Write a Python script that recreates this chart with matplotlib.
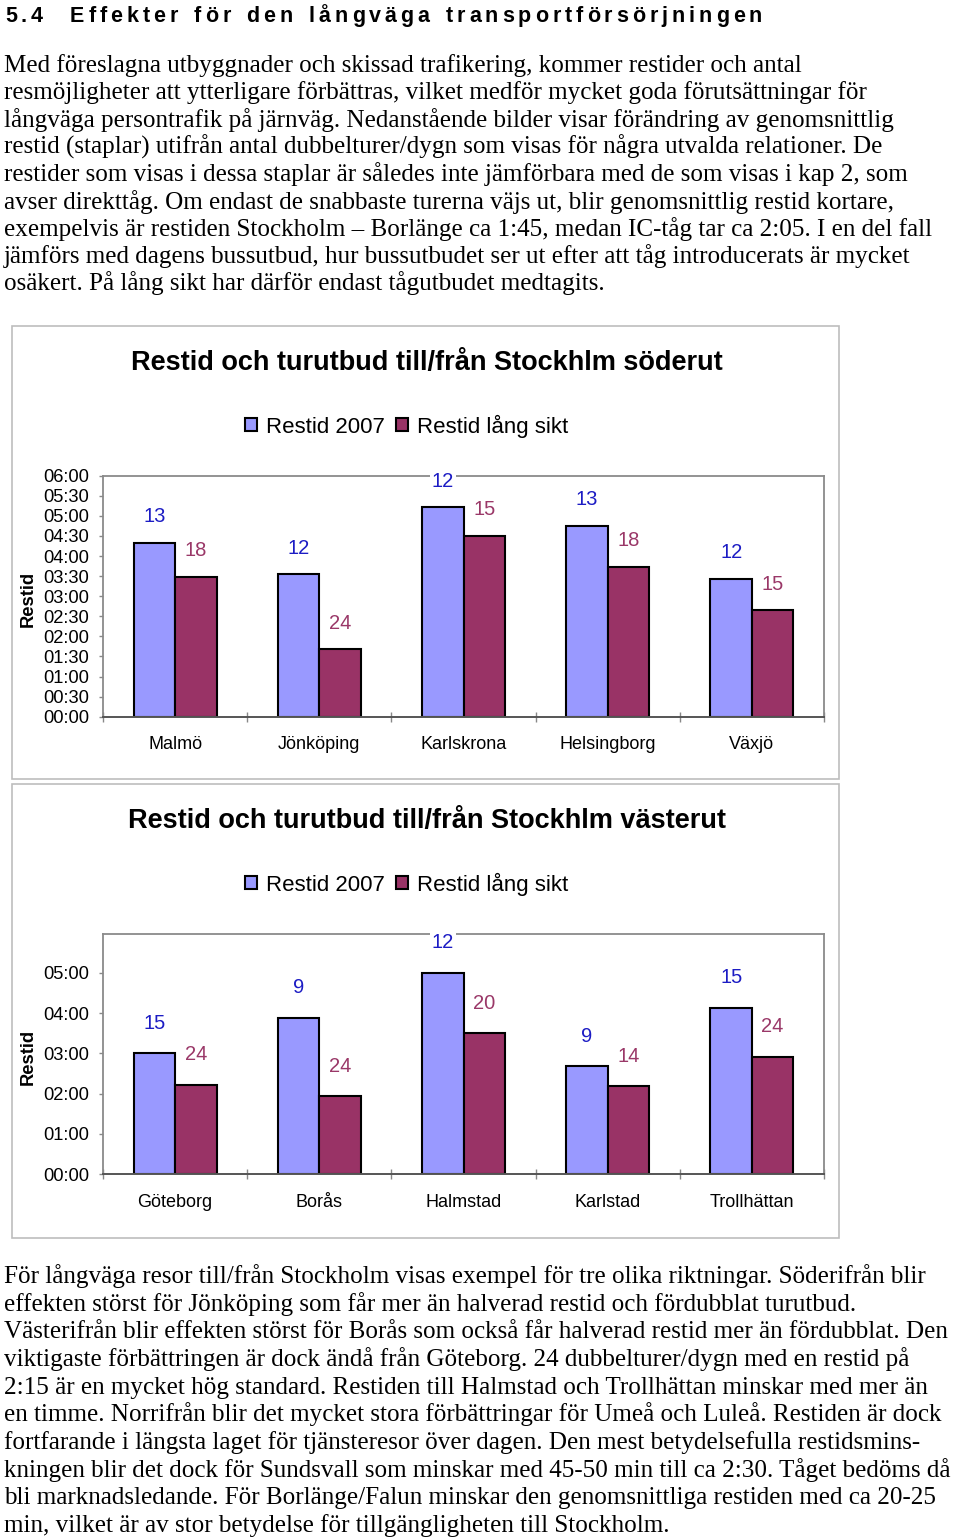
import numpy as np
import matplotlib.pyplot as plt
from matplotlib.patches import Rectangle

W, H = 960, 1537

heading_num = "5.4"
heading_text = "Effekter för den långväga transportförsörjningen"

intro_lines = [
    "Med föreslagna utbyggnader och skissad trafikering, kommer restider och antal",
    "resmöjligheter att ytterligare förbättras, vilket medför mycket goda förutsättningar för",
    "långväga persontrafik på järnväg. Nedanstående bilder visar förändring av genomsnittlig",
    "restid (staplar) utifrån antal dubbelturer/dygn som visas för några utvalda relationer. De",
    "restider som visas i dessa staplar är således inte jämförbara med de som visas i kap 2, som",
    "avser direkttåg. Om endast de snabbaste turerna väjs ut, blir genomsnittlig restid kortare,",
    "exempelvis är restiden Stockholm – Borlänge ca 1:45, medan IC-tåg tar ca 2:05. I en del fall",
    "jämförs med dagens bussutbud, hur bussutbudet ser ut efter att tåg introducerats är mycket",
    "osäkert. På lång sikt har därför endast tågutbudet medtagits.",
]

outro_lines = [
    "För långväga resor till/från Stockholm visas exempel för tre olika riktningar. Söderifrån blir",
    "effekten störst för Jönköping som får mer än halverad restid och fördubblat turutbud.",
    "Västerifrån blir effekten störst för Borås som också får halverad restid mer än fördubblat. Den",
    "viktigaste förbättringen är dock ändå från Göteborg. 24 dubbelturer/dygn med en restid på",
    "2:15 är en mycket hög standard. Restiden till Halmstad och Trollhättan minskar med mer än",
    "en timme. Norrifrån blir det mycket stora förbättringar för Umeå och Luleå. Restiden är dock",
    "fortfarande i längsta laget för tjänsteresor över dagen. Den mest betydelsefulla restidsmins-",
    "kningen blir det dock för Sundsvall som minskar med 45-50 min till ca 2:30. Tåget bedöms då",
    "bli marknadsledande. För Borlänge/Falun minskar den genomsnittliga restiden med ca 20-25",
    "min, vilket är av stor betydelse för tillgängligheten till Stockholm.",
]

series_names = ["Restid 2007", "Restid lång sikt"]

# söderut (restid i minuter, turer = dubbelturer/dygn)
south_title = "Restid och turutbud till/från Stockhlm söderut"
south_cities = ["Malmö", "Jönköping", "Karlskrona", "Helsingborg", "Växjö"]
south_2007_min = [260, 213, 313, 285, 206]
south_long_min = [209, 101, 270, 224, 159]
south_trips_2007 = [13, 12, 12, 13, 12]
south_trips_long = [18, 24, 15, 18, 15]

# västerut
west_title = "Restid och turutbud till/från Stockhlm västerut"
west_cities = ["Göteborg", "Borås", "Halmstad", "Karlstad", "Trollhättan"]
west_2007_min = [180, 233, 300, 161, 248]
west_long_min = [133, 116, 210, 131, 175]
west_trips_2007 = [15, 9, 12, 9, 15]
west_trips_long = [24, 24, 20, 14, 24]

COL_2007 = '#9999ff'
COL_LONG = '#993366'
LAB_2007 = '#1c1cc4'
LAB_LONG = '#9a3868'

plt.rcParams['font.family'] = ['Liberation Sans', 'DejaVu Sans']

fig = plt.figure(figsize=(W / 100, H / 100), dpi=100)
renderer = fig.canvas.get_renderer()


def fx(px):
    return px / W


def fy(py):
    return 1 - py / H


def text_width(s, size, **kw):
    t = fig.text(0, 0, s, fontsize=size, **kw)
    w = t.get_window_extent(renderer).width
    t.remove()
    return w


# heading with wide letter spacing
hsize = 15.5
hkw = dict(family='Liberation Sans', weight='bold')
widths = [text_width(ch, hsize, **hkw) for ch in heading_text if ch != ' ']
word_gap = 16
n_gaps = sum(len(wd) - 1 for wd in heading_text.split(' '))
track = (762 - 70 - sum(widths) - word_gap * heading_text.count(' ')) / n_gaps


def draw_tracked(x, base, s):
    for ch in s:
        if ch == ' ':
            x += word_gap - track
            continue
        t = fig.text(fx(x), fy(base), ch, fontsize=hsize, va='baseline', **hkw)
        x += t.get_window_extent(renderer).width + track
    return x


draw_tracked(5, 22, heading_num)
draw_tracked(70, 22, heading_text)

# body text
body_size = 10 * 865 / text_width(intro_lines[1], 10, family='Liberation Serif')
for i, line in enumerate(intro_lines):
    fig.text(fx(4), fy(72 + i * 27.3), line, fontsize=body_size,
             family='Liberation Serif', va='baseline')
for i, line in enumerate(outro_lines):
    fig.text(fx(4), fy(1283.3 + i * 27.6), line, fontsize=body_size,
             family='Liberation Serif', va='baseline')

title_size = 10 * 593 / text_width(south_title, 10, weight='bold')


def hhmm(h):
    m = int(round(h * 60))
    return f"{m // 60:02d}:{m % 60:02d}"


def draw_chart(box_top, box_bot, plot_top, plot_bot, title, title_base, legend_y,
               cities, t_2007, t_long, n_2007, n_long, ymax, step, label_off):
    fig.patches.append(Rectangle((fx(12), fy(box_bot)), fx(839 - 12), (box_bot - box_top) / H,
                                 transform=fig.transFigure, fill=False,
                                 edgecolor='#bdbdbd', linewidth=1.2))
    ax = fig.add_axes([fx(103), fy(plot_bot), fx(824 - 103), (plot_bot - plot_top) / H])
    x = np.arange(len(cities))
    w = 0.288
    h07 = np.array(t_2007) / 60
    hlg = np.array(t_long) / 60
    b1 = ax.bar(x - w / 2, h07, w, color=COL_2007, edgecolor='black', linewidth=1.5, zorder=2)
    b2 = ax.bar(x + w / 2, hlg, w, color=COL_LONG, edgecolor='black', linewidth=1.5, zorder=2)
    for xs, hs, ns, col in [(x - w / 2, h07, n_2007, LAB_2007), (x + w / 2, hlg, n_long, LAB_LONG)]:
        for xi, hi, ni in zip(xs, hs, ns):
            ax.annotate(str(ni), (xi, hi), xytext=(0, label_off), textcoords='offset pixels',
                        ha='center', va='center', fontsize=14.5, color=col, zorder=5,
                        bbox=dict(facecolor='white', edgecolor='none', pad=1.5),
                        annotation_clip=False)

    ax.set_xlim(-0.5, len(cities) - 0.5)
    ax.set_ylim(0, ymax)
    yt = np.arange(0, int(ymax / step + 1e-6) + 1) * step
    ax.set_yticks(yt)
    ax.set_yticklabels([hhmm(v) for v in yt], fontsize=13.2)
    ax.tick_params(axis='y', length=3, width=1, color='#888888', pad=7)
    ax.set_xticks(x)
    ax.set_xticklabels(cities, fontsize=13)
    ax.tick_params(axis='x', which='major', length=0, pad=14)
    ax.set_xticks(np.arange(-0.5, len(cities), 1.0), minor=True)
    ax.tick_params(axis='x', which='minor', direction='inout', length=7, width=1, color='#888888')
    for side in ['top', 'right', 'left']:
        ax.spines[side].set_color('#8a8a8a')
        ax.spines[side].set_linewidth(1.3)
    ax.spines['bottom'].set_color('#555555')
    ax.spines['bottom'].set_linewidth(1.4)

    fig.text(fx(28), fy((plot_top + plot_bot) / 2 + 3), 'Restid', rotation=90, fontsize=13.2,
             weight='bold', ha='center', va='center')
    fig.text(fx(427), fy(title_base), title, fontsize=title_size, weight='bold',
             ha='center', va='baseline')
    ax.legend([b1, b2], series_names, loc='center left', ncol=2, frameon=False,
              bbox_to_anchor=(fx(245), fy(legend_y)), bbox_transform=fig.transFigure,
              fontsize=16, handlelength=0.56, handleheight=0.56, handletextpad=0.38,
              columnspacing=0.5, borderpad=0, borderaxespad=0)
    return ax


draw_chart(326, 779, 475.7, 716.7, south_title, 370, 426,
           south_cities, south_2007_min, south_long_min, south_trips_2007, south_trips_long,
           6, 0.5, 26)
draw_chart(784, 1238, 933.7, 1174.3, west_title, 828.3, 884,
           west_cities, west_2007_min, west_long_min, west_trips_2007, west_trips_long,
           5.97, 1, 30)

fig.savefig('out.png', dpi=100)
